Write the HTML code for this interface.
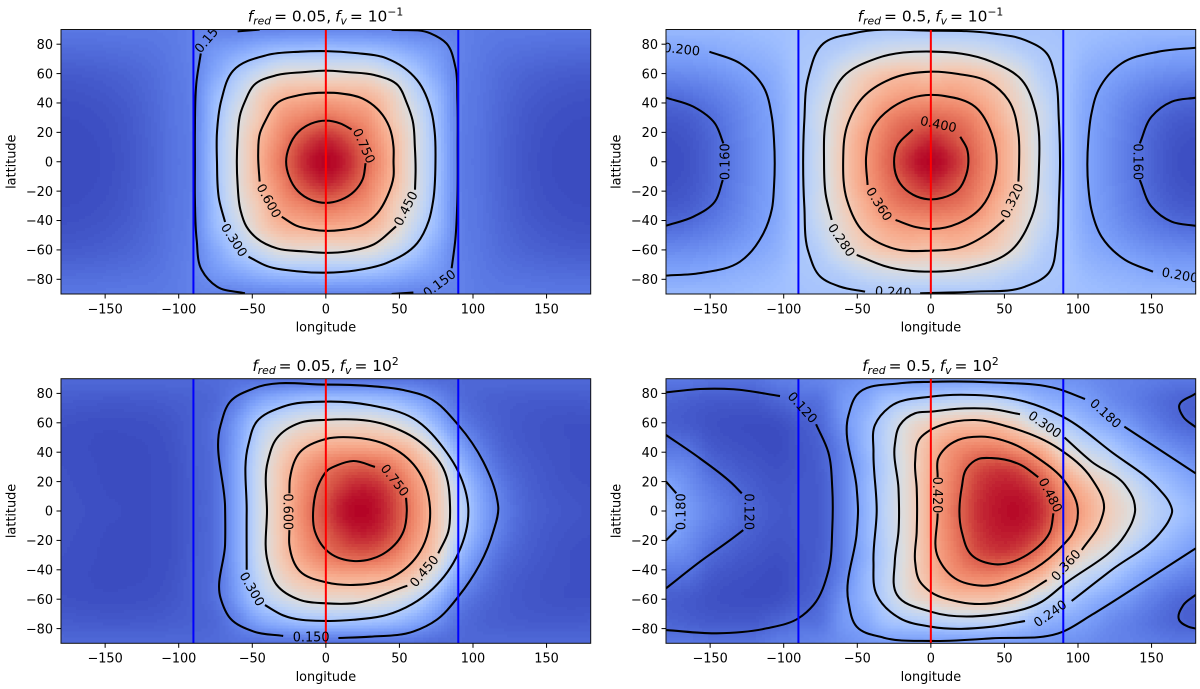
<!DOCTYPE html>
<html lang="en">
<head>
<meta charset="utf-8">
<title>Temperature maps for f_red and f_v</title>
<style>
html,body{margin:0;padding:0;background:#fff;width:1200px;height:689px;overflow:hidden}
svg{display:block;font-family:"DejaVu Sans","Liberation Sans",sans-serif;fill:#000}
.title{font-size:15.4px}
.it{font-style:italic}
</style>
</head>
<body>
<svg id="chart" xmlns="http://www.w3.org/2000/svg" width="1200" height="689" viewBox="0 0 1200 689">
<rect x="0" y="0" width="1200" height="689" fill="#fff"/>
<text class="title" x="325.5" y="21.7" text-anchor="middle"><tspan class="it">f</tspan><tspan class="it" font-size="10.8" dy="3">red</tspan><tspan dy="-3" dx="3">= 0.05,</tspan><tspan class="it" dx="4">f</tspan><tspan class="it" font-size="10.8" dy="3">v</tspan><tspan dy="-3" dx="3">= 10</tspan><tspan font-size="10.8" dy="-6">−1</tspan></text>
<text class="title" x="930.5" y="21.7" text-anchor="middle"><tspan class="it">f</tspan><tspan class="it" font-size="10.8" dy="3">red</tspan><tspan dy="-3" dx="3">= 0.5,</tspan><tspan class="it" dx="4">f</tspan><tspan class="it" font-size="10.8" dy="3">v</tspan><tspan dy="-3" dx="3">= 10</tspan><tspan font-size="10.8" dy="-6">−1</tspan></text>
<text class="title" x="325.5" y="371" text-anchor="middle"><tspan class="it">f</tspan><tspan class="it" font-size="10.8" dy="3">red</tspan><tspan dy="-3" dx="3">= 0.05,</tspan><tspan class="it" dx="4">f</tspan><tspan class="it" font-size="10.8" dy="3">v</tspan><tspan dy="-3" dx="3">= 10</tspan><tspan font-size="10.8" dy="-6">2</tspan></text>
<text class="title" x="930.5" y="371" text-anchor="middle"><tspan class="it">f</tspan><tspan class="it" font-size="10.8" dy="3">red</tspan><tspan dy="-3" dx="3">= 0.5,</tspan><tspan class="it" dx="4">f</tspan><tspan class="it" font-size="10.8" dy="3">v</tspan><tspan dy="-3" dx="3">= 10</tspan><tspan font-size="10.8" dy="-6">2</tspan></text>
</svg>
<script>
// ---------- shared axis data ----------
const xTicks = [-150, -100, -50, 0, 50, 100, 150];
const yTicks = [-80, -60, -40, -20, 0, 20, 40, 60, 80];
const redLines = [0];
const blueLines = [-90, 90];
const gridLons = [-180,-165,-150,-135,-120,-105,-90,-75,-60,-45,-30,-15,0,15,30,45,60,75,90,105,120,135,150,165,180];
const gridLats = [0,15,30,45,60,75,90];
const coolwarmStops = ['#3b4cc0','#5977e3','#7b9ff9','#9ebeff','#c0d4f5','#dddcdc','#f2cbb7','#f7ac8e','#ee8468','#d65244','#b40426'];

// ---------- heatmap fields: rows by |latitude| (gridLats), columns by longitude (gridLons) ----------
const fieldTopLeft = [
[.03,.03,.035,.05,.075,.105,.14,.30,.45,.605,.73,.83,.87,.83,.73,.605,.45,.30,.14,.105,.075,.05,.035,.03,.03],
[.03,.031,.037,.052,.076,.106,.14,.295,.45,.59,.70,.79,.83,.79,.70,.59,.45,.295,.14,.106,.076,.052,.037,.031,.03],
[.033,.035,.042,.056,.079,.108,.14,.285,.43,.545,.655,.70,.73,.70,.655,.545,.43,.285,.14,.108,.079,.056,.042,.035,.033],
[.042,.045,.052,.064,.084,.11,.14,.27,.38,.51,.585,.605,.615,.605,.585,.51,.38,.27,.14,.11,.084,.064,.052,.045,.042],
[.06,.062,.068,.077,.092,.113,.14,.22,.315,.395,.46,.47,.465,.47,.46,.395,.315,.22,.14,.113,.092,.077,.068,.062,.06],
[.088,.09,.093,.098,.105,.118,.14,.185,.22,.26,.29,.295,.30,.295,.29,.26,.22,.185,.14,.118,.105,.098,.093,.09,.088],
[.115,.115,.115,.117,.118,.122,.135,.14,.14,.145,.145,.15,.15,.15,.145,.145,.14,.14,.135,.122,.118,.117,.115,.115,.115]
];
const fieldTopRight = [
[.136,.14,.152,.168,.185,.203,.235,.272,.32,.36,.395,.425,.44,.425,.395,.36,.32,.272,.235,.203,.185,.168,.152,.14,.136],
[.138,.142,.153,.169,.186,.203,.235,.27,.318,.358,.388,.41,.425,.41,.388,.358,.318,.27,.235,.203,.186,.169,.153,.142,.138],
[.145,.148,.158,.172,.188,.204,.235,.272,.31,.345,.375,.39,.395,.39,.375,.345,.31,.272,.235,.204,.188,.172,.158,.148,.145],
[.158,.162,.17,.18,.192,.207,.235,.263,.30,.33,.35,.36,.36,.36,.35,.33,.30,.263,.235,.207,.192,.18,.17,.162,.158],
[.18,.182,.186,.193,.202,.213,.235,.25,.283,.31,.325,.33,.325,.33,.325,.31,.283,.25,.235,.213,.202,.193,.186,.182,.18],
[.20,.201,.204,.21,.215,.222,.235,.24,.25,.265,.275,.28,.28,.28,.275,.265,.25,.24,.235,.222,.215,.21,.204,.201,.20],
[.22,.22,.22,.222,.225,.228,.232,.235,.235,.238,.24,.24,.24,.24,.24,.238,.235,.235,.232,.228,.225,.222,.22,.22,.22]
];
const fieldBottomLeft = [
[.045,.04,.035,.033,.033,.04,.065,.10,.22,.40,.555,.69,.785,.85,.855,.80,.69,.55,.38,.22,.13,.08,.06,.05,.045],
[.042,.038,.033,.032,.033,.04,.065,.10,.22,.40,.55,.675,.76,.82,.83,.78,.67,.545,.355,.205,.12,.075,.055,.045,.04],
[.04,.036,.032,.032,.033,.04,.068,.10,.22,.395,.54,.64,.71,.75,.755,.71,.62,.51,.285,.165,.095,.065,.05,.04,.035],
[.038,.034,.032,.032,.034,.044,.07,.10,.21,.37,.49,.56,.60,.61,.605,.59,.53,.385,.21,.125,.075,.055,.045,.04,.035],
[.042,.038,.036,.037,.04,.05,.07,.10,.19,.32,.40,.45,.47,.475,.475,.44,.37,.255,.14,.09,.065,.052,.045,.04,.04],
[.062,.058,.056,.056,.058,.064,.072,.085,.135,.21,.255,.285,.295,.295,.29,.27,.225,.165,.10,.075,.065,.06,.058,.058,.06],
[.085,.085,.085,.085,.085,.085,.085,.09,.10,.10,.10,.10,.10,.10,.10,.10,.10,.09,.085,.085,.085,.085,.085,.085,.085]
];
const fieldBottomRight = [
[.21,.175,.15,.13,.113,.103,.103,.108,.145,.203,.268,.33,.40,.46,.505,.525,.53,.51,.455,.405,.355,.315,.265,.235,.215],
[.19,.165,.14,.122,.108,.10,.103,.108,.145,.205,.265,.33,.40,.455,.50,.52,.52,.495,.435,.385,.34,.295,.25,.22,.195],
[.16,.15,.122,.108,.10,.095,.10,.11,.145,.20,.262,.328,.395,.445,.485,.50,.49,.45,.385,.33,.295,.25,.215,.19,.17],
[.13,.125,.105,.097,.093,.09,.10,.113,.15,.21,.265,.33,.385,.425,.44,.44,.415,.38,.31,.27,.24,.205,.175,.155,.14],
[.11,.105,.097,.093,.092,.094,.105,.12,.165,.21,.26,.315,.345,.365,.37,.365,.335,.28,.25,.215,.19,.17,.145,.125,.115],
[.115,.11,.105,.105,.105,.115,.125,.13,.17,.19,.23,.245,.255,.265,.27,.265,.24,.21,.195,.18,.16,.145,.13,.118,.11],
[.135,.135,.13,.13,.13,.14,.145,.15,.16,.17,.175,.175,.175,.175,.175,.175,.175,.17,.165,.16,.15,.145,.14,.135,.135]
];

// ---------- contour traces, [longitude, latitude] ----------
const tl075 = [[[27,-1],[25,-12],[19.5,-20],[10,-26],[0,-28],[-10,-26],[-19,-20],[-25,-10],[-27,0],[-25,10],[-19,20],[-10,26],[0,28],[10,26],[17.5,22]]];
const tl060 = [[[-30,-37.4],[-20,-43.5],[-10,-46],[0,-47],[10,-46.5],[25,-43],[35,-35],[42,-23],[46,-10],[46,0],[46,10],[43,24],[35,36],[25,43],[10,46.5],[0,47],[-17.6,45.4],[-33.4,39.7],[-41,28],[-44.8,19.4],[-46,5],[-45,-13.5]]];
const tl045 = [[[60.6,-19],[61,-5],[60.5,10],[59,28],[55,40],[49,52],[33,59],[15,61],[0,62],[-15,61],[-33,59],[-49,52],[-55,41],[-58,33],[-60,15],[-60.5,0],[-60,-15],[-58,-33],[-54,-44],[-47,-52],[-33,-59],[-15,-61],[0,-62],[15,-61],[33,-56],[47.7,-44]]];
const tl030 = [[[-52.6,-64.6],[-40,-71],[-20,-74.5],[0,-75.5],[20,-74],[41,-69],[62,-55.5],[70,-40],[73,-26],[74.5,0],[74,20],[72,33],[62,55.6],[41,70.5],[20,74],[0,75.3],[-17.6,74.9],[-40,72.6],[-63,62],[-71,42],[-74,20],[-74,0],[-72.5,-26],[-68.5,-41]]];
const tl015 = [
[[-85,73.7],[-87.8,55.6],[-89,20],[-89,0],[-89,-25],[-87.8,-53],[-84.4,-73.6],[-74,-85],[-55,-89.5]],
[[-60,88.7],[-45,89.9]],
[[44.7,89.8],[71,87.4],[82,80.5],[88,64.7],[89.4,42],[89.6,10],[89.4,-26],[88,-53],[85.5,-72.5]],
[[44.7,-90],[59.5,-89]]
];
const tr040 = [[[-12.3,22],[-23.2,10],[-25,0],[-21,-14.6],[-12,-22.5],[-2,-25.5],[8,-24.5],[18.7,-19],[24,-9],[25.5,0],[24.5,9],[20,17]]];
const tr036 = [[[-24,-39.6],[-10,-44.5],[0,-45.8],[18.7,-41.9],[34.6,-30.6],[42.5,-15],[44.8,-1],[41.4,19],[30,37.5],[9.6,44.7],[0,45.5],[-25.5,37.5],[-39,24],[-44,3.4],[-43,-15.8]]];
const tr032 = [[[59.5,-13.5],[60,0],[59.5,19],[52.7,42],[39,54.5],[18.7,59.7],[0,61.3],[-25.5,57],[-46,44],[-57,24],[-59.6,0.7],[-57,-26],[-46,-47.5],[-25.5,-59],[0,-60.5],[18.7,-58.8],[39,-48.6],[49.8,-39.6]]];
const tr028 = [[[-67.4,-39.6],[-71.5,-22],[-72.6,0],[-70.8,30.7],[-59.6,57.9],[-36.8,70.4],[0,75],[41.4,68],[61.8,55.6],[71,35],[73,24],[73.6,0],[68.6,-37.4],[55,-60],[25.5,-72.3],[0,-74.8],[-30,-71.4],[-50.4,-63.4]]];
const tr024 = [[[-44.7,-88.4],[-61.7,-85],[-75.3,-78],[-83,-62],[-86,-30],[-86.8,0],[-86,28],[-83.2,57.9],[-73,80.5],[-52.7,87.4],[0,89.2],[41.4,87.4],[64,82.8],[78.7,73.8],[84.4,57.9],[87,28],[87.8,0],[87,-28],[85.6,-53],[79.9,-75.9],[64,-85],[30,-88.4],[0,-89.3],[-7.3,-89.5]]];
const tr020 = [
[[-150.5,74.9],[-129.7,67],[-113.8,51],[-108,30],[-106.6,14.8],[-106.6,-17],[-108,-32],[-113.8,-48.7],[-129.7,-68],[-156.9,-75.8],[-180,-77.5]],
[[151,-74.8],[132,-66.8],[116,-51],[109,-32],[107,-17],[107,14.8],[109,32],[113.9,48.8],[129.7,67],[154.6,74.9],[180,77.6]]
];
const tr016 = [
[[-180,43.6],[-161.4,37.5],[-146.7,26],[-141,12.5]],
[[-141.4,-12.4],[-146.7,-27],[-161.4,-37.4],[-180,-43.5]],
[[142,12.5],[150,30.7],[163.7,40.9],[180,43.6]],
[[142,-12.4],[150,-30.6],[163.7,-40.8],[180,-43.6]]
];
const bl075 = [[[54.5,9],[55,0],[52.7,-14],[41.3,-27.7],[18.7,-34],[2.8,-28.7],[-7.4,-14],[-8.5,2],[-4,20],[1.5,28],[7.4,31],[18.7,34],[33.4,30]]];
const bl060 = [[[-24.8,12],[-24.4,22],[-17.6,40],[0,49],[18.7,50],[41.3,45],[61.7,29],[70.8,2],[64,-27.7],[45.8,-44.7],[18.7,-50.3],[0,-48.5],[-17.6,-41],[-24.8,-23],[-24.8,-13]]];
const bl045 = [[[76.4,-28.8],[83.2,-14],[84.4,3],[79.8,29],[64,47],[41.3,58.5],[0,62],[-17.6,60],[-33.4,49.4],[-39.5,33.5],[-40,0],[-39.5,-34.5],[-33.4,-50.3],[-17.6,-60.5],[0,-62.8],[18.7,-62.8],[55.4,-50.8]]];
const bl030 = [[[-53.8,-40],[-53.8,0],[-52.7,45],[-47,60.8],[-29,71],[0,74.4],[30,72],[59.4,63],[82,40],[90,26.8],[96.8,2],[90,-28.8],[73,-52.6],[41.3,-70.7],[18.7,-74],[0,-74.8],[-29,-71],[-41.4,-64]]];
const bl015 = [[[-29,-85],[-49,-82],[-65,-73],[-71.5,-59.4],[-68.5,-23],[-68.5,3],[-71.5,58.5],[-65,74.4],[-49,83.4],[0,86],[30,85],[52.7,82.3],[70.8,76.6],[90,58.5],[107,33.5],[116,10],[117.2,2],[113.8,-14],[90,-58.3],[75.3,-74],[59.4,-82],[30,-85.5],[8.5,-86.4]]];
const br048 = [[[83.3,-1.6],[81,-14],[68.6,-27.7],[41.4,-36],[27.8,-30],[21,-14],[21,16],[24.4,29],[32.3,35.4],[41.4,36],[61.8,31],[73,23]]];
const br042 = [[[4.6,23],[5.1,36],[9.7,42.6],[18.5,48.3],[34.6,50.6],[55,46],[73,35.8],[91.2,20],[99.8,1.8],[95.7,-16.3],[90,-23],[70.8,-39],[59.5,-44.7],[34.6,-50.8],[16.4,-45.8],[5.1,-32],[4.6,-1.6]]];
const br036 = [[[102.6,-26.5],[115,-8],[117.7,1.8],[109.3,22],[86.7,42.6],[52.7,57.3],[30,61.9],[7.4,58.5],[-0.5,55],[-7.4,49.4],[-10.7,33.5],[-9.6,15.4],[-9.6,-14],[-10.7,-34.5],[-7.4,-48],[-2,-53.7],[18.7,-61.7],[41.4,-62.8],[64,-56],[78.8,-47]]];
const br030 = [[[90.8,50],[109.3,33.5],[132,17.7],[138,7],[138.8,0],[137,-7],[132,-16.3],[90,-50.3],[75.4,-61.7],[41.4,-70.7],[0,-68.5],[-23,-57],[-24.5,-34.5],[-22,-14],[-22,15.4],[-24.5,45],[-21,58.5],[-10.7,66.5],[0,67.6],[22.8,69.8],[41.4,69.4],[60.6,65.8]]];
const br024 = [[[64,-74.8],[41.4,-78.7],[0,-78.7],[-21,-73],[-36.8,-57],[-39,-34.5],[-36.8,0],[-39,40],[-38,58.5],[-27.7,71],[0,77.8],[30,78.9],[64,74.4],[90,64],[123,40],[154.6,15.4],[162,6],[164,0],[162,-6],[154.6,-16.3],[123,-40],[95.7,-61.2]]];
const br018 = [
[[104.8,76.2],[86.7,83],[41.4,87.5],[0,87.9],[-21,86.9],[-50.4,78.9],[-56,65],[-50.4,15.4],[-49.5,0],[-50.4,-15],[-56,-61.7],[-50.4,-78.7],[-32,-86.2],[0,-88.4],[41.4,-86.6],[90,-82],[109.3,-70.7],[145,-48],[180,-25.4]],
[[131.5,57.4],[155,42],[180,25.6]],
[[-180,20],[-173,12]],
[[-173,-13],[-180,-20]]
];
const br012 = [
[[-180,51.7],[-156.9,35.8],[-134,17.7],[-128.5,12]],
[[-127.5,-13],[-134,-18],[-156.9,-34.5],[-180,-52.6]],
[[-180,80.7],[-156.9,83],[-134,82.8],[-102.5,78.2]],
[[-78,59],[-69.7,40],[-67,15.4],[-67,-12],[-69.7,-41],[-79.8,-64],[-90,-73],[-111.5,-79.8],[-145.5,-83.2],[-180,-81]],
[[180,80],[168.7,71],[171.6,64],[180,57]],
[[180,-57],[171.6,-64],[168.7,-74],[175,-78.7],[180,-80]]
];

// ---------- inline contour labels: text, lon, lat, rotation ----------
const tlLabels = [['0.750',26.1,10.9,66],['0.600',-38.6,-26.5,61],['0.450',54.2,-31.7,-63],['0.300',-62.2,-53.2,57],['0.150',-79.6,85,-50],['0.150',77.1,-82.7,-37]];
const trLabels = [['0.400',5.2,25.7,12],['0.360',-35,-28.7,58],['0.320',55,-26.5,-65],['0.280',-60.6,-53.2,55],['0.240',-25.5,-88.4,3],['0.200',-169.3,76.7,6],['0.200',169.4,-77,10],['0.160',-139.9,0,-90],['0.160',141,0,90]];
const blLabels = [['0.750',47,21,52],['0.600',-25.5,-0.5,90],['0.450',66.7,-40.8,-50],['0.300',-50,-53,60],['0.150',-10,-85.7,0]];
const brLabels = [['0.480',81.5,10.9,63],['0.420',4.7,10.9,90],['0.360',91.7,-36.7,-48],['0.300',77.6,59,35],['0.240',81,-69.6,-35],['0.180',118.9,66.5,42],['0.180',-169.8,-0.5,-90],['0.120',-123.6,-0.5,90],['0.120',-87.1,70.5,48]];

const panels = [
 {key:'top-left', left:61, right:590.7, top:29.5, bottom:294, yLabelX:15.7, tickBase:313.3, xLabelBase:331.7, vmin:.03, vmax:.87, field:fieldTopLeft, labels:tlLabels,
  contours:[{level:'0.750',segments:tl075},{level:'0.600',segments:tl060},{level:'0.450',segments:tl045},{level:'0.300',segments:tl030},{level:'0.150',segments:tl015}]},
 {key:'top-right', left:666, right:1195.7, top:29.5, bottom:294, yLabelX:620.7, tickBase:313.3, xLabelBase:331.7, vmin:.135, vmax:.44, field:fieldTopRight, labels:trLabels,
  contours:[{level:'0.400',segments:tr040},{level:'0.360',segments:tr036},{level:'0.320',segments:tr032},{level:'0.280',segments:tr028},{level:'0.240',segments:tr024},{level:'0.200',segments:tr020},{level:'0.160',segments:tr016}]},
 {key:'bottom-left', left:61, right:590.7, top:378.7, bottom:643.3, yLabelX:15.7, tickBase:662.7, xLabelBase:681, vmin:.03, vmax:.86, field:fieldBottomLeft, labels:blLabels,
  contours:[{level:'0.750',segments:bl075},{level:'0.600',segments:bl060},{level:'0.450',segments:bl045},{level:'0.300',segments:bl030},{level:'0.150',segments:bl015}]},
 {key:'bottom-right', left:666, right:1195.7, top:378.7, bottom:643.3, yLabelX:620.7, tickBase:662.7, xLabelBase:681, vmin:.09, vmax:.535, field:fieldBottomRight, labels:brLabels,
  contours:[{level:'0.480',segments:br048},{level:'0.420',segments:br042},{level:'0.360',segments:br036},{level:'0.300',segments:br030},{level:'0.240',segments:br024},{level:'0.180',segments:br018},{level:'0.120',segments:br012}]}
];

const SVGNS = 'http://www.w3.org/2000/svg';
const chart = document.getElementById('chart');
const mk = (tag, parent) => { const e = document.createElementNS(SVGNS, tag); parent.appendChild(e); return e; };
const hexRgb = h => [parseInt(h.slice(1,3),16), parseInt(h.slice(3,5),16), parseInt(h.slice(5,7),16)];
const stopsRgb = coolwarmStops.map(hexRgb);
const colorLevels = 128;

function coolwarm(n) {
  n = Math.max(0, Math.min(1, n));
  n = Math.round(n * colorLevels) / colorLevels;
  const p = n * (stopsRgb.length - 1);
  const i = Math.min(stopsRgb.length - 2, Math.floor(p));
  const t = p - i;
  const a = stopsRgb[i], b = stopsRgb[i + 1];
  return 'rgb(' + Math.round(a[0]+(b[0]-a[0])*t) + ',' + Math.round(a[1]+(b[1]-a[1])*t) + ',' + Math.round(a[2]+(b[2]-a[2])*t) + ')';
}
function cubic(a, b, c, d, t) {
  return b + 0.5 * t * (c - a + t * (2*a - 5*b + 4*c - d + t * (3*(b - c) + d - a)));
}
function sampleField(field, lon, lat) {
  const lonStep = gridLons[1] - gridLons[0];
  const latStep = gridLats[1] - gridLats[0];
  const u = (lon - gridLons[0]) / lonStep;
  const i = Math.max(0, Math.min(gridLons.length - 2, Math.floor(u)));
  const t = u - i;
  const v = Math.abs(lat) / latStep;
  const j = Math.max(0, Math.min(gridLats.length - 2, Math.floor(v)));
  const s = v - j;
  const col = k => Math.max(0, Math.min(gridLons.length - 1, k));
  const rowAt = r => {
    const idx = r < 0 ? -r : Math.min(gridLats.length - 1, r);
    const row = field[idx];
    return cubic(row[col(i-1)], row[col(i)], row[col(i+1)], row[col(i+2)], t);
  };
  return cubic(rowAt(j-1), rowAt(j), rowAt(j+1), rowAt(j+2), s);
}
// Smooth curve through traced points; tangents weighted by neighbouring chord lengths.
function smoothPath(points, sx, sy) {
  const p = points.map(q => [sx(q[0]), sy(q[1])]);
  const n = p.length;
  const dist = (a, b) => Math.max(0.001, Math.hypot(b[0]-a[0], b[1]-a[1]));
  const tan = [];
  for (let i = 0; i < n; i++) {
    if (i === 0 || i === n - 1) { tan.push(null); continue; }
    const d0 = dist(p[i-1], p[i]), d1 = dist(p[i], p[i+1]);
    let tx = (p[i][0]-p[i-1][0])/d0*d1 + (p[i+1][0]-p[i][0])/d1*d0;
    let ty = (p[i][1]-p[i-1][1])/d0*d1 + (p[i+1][1]-p[i][1])/d1*d0;
    const m = Math.max(0.001, Math.hypot(tx, ty));
    tan.push([tx/m, ty/m]);
  }
  let d = 'M' + p[0][0].toFixed(2) + ' ' + p[0][1].toFixed(2);
  for (let i = 0; i < n - 1; i++) {
    const len = dist(p[i], p[i+1]);
    const chord = [(p[i+1][0]-p[i][0])/len, (p[i+1][1]-p[i][1])/len];
    const t1 = tan[i] || chord, t2 = tan[i+1] || chord;
    const c1x = p[i][0] + t1[0]*len/3, c1y = p[i][1] + t1[1]*len/3;
    const c2x = p[i+1][0] - t2[0]*len/3, c2y = p[i+1][1] - t2[1]*len/3;
    d += 'C' + c1x.toFixed(2) + ' ' + c1y.toFixed(2) + ' ' + c2x.toFixed(2) + ' ' + c2y.toFixed(2) + ' ' + p[i+1][0].toFixed(2) + ' ' + p[i+1][1].toFixed(2);
  }
  return d;
}

panels.forEach(function (panel) {
  const w = panel.right - panel.left, h = panel.bottom - panel.top;
  const sx = lon => panel.left + (lon + 180) / 360 * w;
  const sy = lat => panel.top + (90 - lat) / 180 * h;

  const g = mk('g', chart);
  
  

  const clip = mk('clipPath', g);
  clip.setAttribute('id', 'clip-' + panel.key);
  const clipRect = mk('rect', clip);
  clipRect.setAttribute('x', panel.left);
  clipRect.setAttribute('y', panel.top);
  clipRect.setAttribute('width', w);
  clipRect.setAttribute('height', h);

  const heat = mk('g', g);
  
  
  heat.setAttribute('clip-path', 'url(#clip-' + panel.key + ')');
  heat.setAttribute('shape-rendering', 'crispEdges');
  const cols = Math.round(w / 3), rows = Math.round(h / 3);
  const dLon = 360 / cols, dLat = 180 / rows;
  for (let r = 0; r < rows; r++) {
    const lat = 90 - (r + 0.5) * dLat;
    for (let c = 0; c < cols; c++) {
      const lon = -180 + (c + 0.5) * dLon;
      const value = sampleField(panel.field, lon, lat);
      const cell = mk('rect', heat);
      
      
      cell.setAttribute('x', (sx(lon - dLon/2)).toFixed(2));
      cell.setAttribute('y', (sy(lat + dLat/2)).toFixed(2));
      cell.setAttribute('width', (w / cols + 0.6).toFixed(2));
      cell.setAttribute('height', (h / rows + 0.6).toFixed(2));
      cell.setAttribute('fill', coolwarm((value - panel.vmin) / (panel.vmax - panel.vmin)));
    }
  }

  const cg = mk('g', g);
  
  
  cg.setAttribute('clip-path', 'url(#clip-' + panel.key + ')');
  panel.contours.forEach(function (set) {
    set.segments.forEach(function (seg) {
      const path = mk('path', cg);
      
      
      path.setAttribute('d', smoothPath(seg, sx, sy));
      path.setAttribute('fill', 'none');
      path.setAttribute('stroke', '#000');
      path.setAttribute('stroke-width', '2.05');
    });
  });

  redLines.forEach(function (lon) {
    const l = mk('line', g);
    
    
    l.setAttribute('x1', sx(lon)); l.setAttribute('x2', sx(lon));
    l.setAttribute('y1', panel.top); l.setAttribute('y2', panel.bottom);
    l.setAttribute('stroke', '#ff0000'); l.setAttribute('stroke-width', '2');
  });
  blueLines.forEach(function (lon) {
    const l = mk('line', g);
    
    
    l.setAttribute('x1', sx(lon)); l.setAttribute('x2', sx(lon));
    l.setAttribute('y1', panel.top); l.setAttribute('y2', panel.bottom);
    l.setAttribute('stroke', '#0000ff'); l.setAttribute('stroke-width', '2');
  });

  const lg = mk('g', g);
  
  
  lg.setAttribute('clip-path', 'url(#clip-' + panel.key + ')');
  panel.labels.forEach(function (lab) {
    const holder = mk('g', lg);
    const tx = mk('text', holder);
    
    
    tx.setAttribute('font-size', '12.85');
    tx.setAttribute('text-anchor', 'middle');
    tx.setAttribute('dy', '0.36em');
    tx.setAttribute('transform', 'translate(' + sx(lab[1]).toFixed(2) + ' ' + sy(lab[2]).toFixed(2) + ') rotate(' + lab[3] + ')');
    tx.textContent = lab[0];
  });

  const spine = mk('rect', g);
  
  
  spine.setAttribute('x', panel.left); spine.setAttribute('y', panel.top);
  spine.setAttribute('width', w); spine.setAttribute('height', h);
  spine.setAttribute('fill', 'none'); spine.setAttribute('stroke', '#111'); spine.setAttribute('stroke-width', '1');

  xTicks.forEach(function (v) {
    const t = mk('line', g);
    
    
    t.setAttribute('x1', sx(v)); t.setAttribute('x2', sx(v));
    t.setAttribute('y1', panel.bottom); t.setAttribute('y2', panel.bottom + 4.5);
    t.setAttribute('stroke', '#000'); t.setAttribute('stroke-width', '1');
    const tx = mk('text', g);
    
    
    tx.setAttribute('x', sx(v)); tx.setAttribute('y', panel.tickBase);
    tx.setAttribute('font-size', '12.85'); tx.setAttribute('text-anchor', 'middle');
    tx.textContent = String(v).replace('-', '\u2212');
  });
  yTicks.forEach(function (v) {
    const t = mk('line', g);
    
    
    t.setAttribute('x1', panel.left - 4.5); t.setAttribute('x2', panel.left);
    t.setAttribute('y1', sy(v)); t.setAttribute('y2', sy(v));
    t.setAttribute('stroke', '#000'); t.setAttribute('stroke-width', '1');
    const tx = mk('text', g);
    
    
    tx.setAttribute('x', panel.left - 8); tx.setAttribute('y', sy(v) + 4.7);
    tx.setAttribute('font-size', '12.85'); tx.setAttribute('text-anchor', 'end');
    tx.textContent = String(v).replace('-', '\u2212');
  });

  const xl = mk('text', g);
  
  
  xl.setAttribute('x', (panel.left + panel.right) / 2); xl.setAttribute('y', panel.xLabelBase);
  xl.setAttribute('font-size', '12.85'); xl.setAttribute('text-anchor', 'middle');
  xl.textContent = 'longitude';
  const yl = mk('text', g);
  
  
  yl.setAttribute('font-size', '12.85'); yl.setAttribute('text-anchor', 'middle');
  yl.setAttribute('transform', 'translate(' + panel.yLabelX + ' ' + ((panel.top + panel.bottom) / 2) + ') rotate(-90)');
  yl.textContent = 'lattitude';
});
</script>
</body>
</html>
